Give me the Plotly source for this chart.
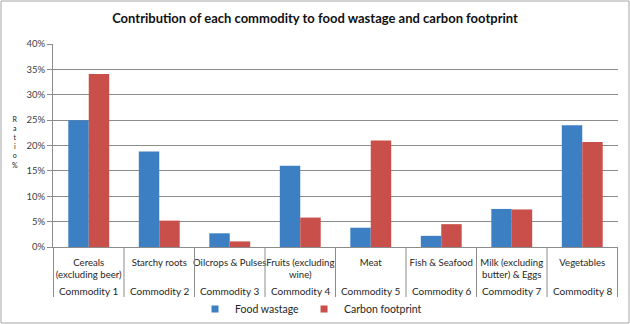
import plotly.graph_objects as go

commodities = ["Commodity 1", "Commodity 2", "Commodity 3", "Commodity 4",
               "Commodity 5", "Commodity 6", "Commodity 7", "Commodity 8"]
names = ["Cereals<br>(excluding beer)", "Starchy roots", "Oilcrops & Pulses",
         "Fruits (excluding<br>wine)", "Meat", "Fish & Seafood",
         "Milk (excluding<br>butter) & Eggs", "Vegetables"]
food_wastage = [0.250, 0.188, 0.027, 0.160, 0.038, 0.022, 0.075, 0.240]
carbon_footprint = [0.341, 0.052, 0.011, 0.058, 0.210, 0.045, 0.074, 0.207]
series_names = ["Food wastage", "Carbon footprint"]
colors = ["#3d7fc3", "#c9504a"]

W, H = 630, 324
ml, mr, mt, mb = 53, 12, 44, 77
pw, ph = W - ml - mr, H - mt - mb

font = "Lato, 'Open Sans', sans-serif"

fig = go.Figure()
for vals, nm, col in zip([food_wastage, carbon_footprint], series_names, colors):
    fig.add_trace(go.Bar(x=names, y=vals, name=nm, showlegend=False,
                         legendgroup=nm,
                         marker=dict(color=col, line=dict(width=0))))
# Legend entries with small square keys
for nm, col in zip(series_names, colors):
    fig.add_trace(go.Scatter(x=[None], y=[None], mode="markers", name=nm,
                             legendgroup=nm,
                             marker=dict(symbol="square", size=7, color=col)))

fig.update_layout(
    width=W, height=H,
    margin=dict(l=ml, r=mr, t=mt, b=mb, autoexpand=False),
    paper_bgcolor="white", plot_bgcolor="white",
    font=dict(family=font, size=10, color="#262626"),
    title=dict(text="<b>Contribution of each commodity to food wastage and carbon footprint</b>",
               x=0.5, xanchor="center", y=1 - 18 / H, yanchor="middle",
               font=dict(size=13, color="#111111")),
    barmode="group", bargap=0.42, bargroupgap=0,
    legend=dict(orientation="h", x=(311 - ml) / pw, xanchor="center",
                y=-(309 - mt - ph) / ph, yanchor="middle",
                font=dict(size=10.5), traceorder="normal", itemwidth=30,
                tracegroupgap=0, bgcolor="rgba(0,0,0,0)"),
    showlegend=True,
)
fig.update_yaxes(range=[0, 0.40], dtick=0.05, tickformat=".0%",
                 showgrid=True, gridcolor="#8c8c8c", gridwidth=1,
                 showline=True, linecolor="#8c8c8c", ticks="outside",
                 ticklen=5, tickcolor="#8c8c8c",
                 tickfont=dict(size=9.5, color="#404040"), zeroline=False)
fig.update_xaxes(type="category", showline=True, linecolor="#8c8c8c",
                 ticks="", tickangle=0, ticklabelstandoff=6,
                 tickfont=dict(size=9.6, color="#262626"))

# Outer level labels and dividers
div_bottom = -(297 - 247) / ph
for i, c in enumerate(commodities):
    fig.add_annotation(text=c, x=names[i], xref="x", yref="paper",
                       y=-(291 - 247) / ph, yanchor="middle", showarrow=False,
                       font=dict(size=10, color="#262626"))
for i in range(len(names) + 1):
    fig.add_shape(type="line", xref="x", yref="paper", x0=i - 0.5, x1=i - 0.5,
                  y0=0, y1=div_bottom, line=dict(color="#8c8c8c", width=1))

# Stacked y-axis title
fig.add_annotation(text="R<br>a<br>t<br>i<br>o<br>%", xref="paper", yref="paper",
                   x=-(ml - 15) / pw, y=(247 - 142) / ph, xanchor="center",
                   yanchor="middle", showarrow=False,
                   font=dict(size=7, color="#222222"))

# Outer chart border
fig.add_shape(type="rect", xref="paper", yref="paper",
              x0=-(ml - 1) / pw, x1=1 + (mr - 1) / pw,
              y0=-(mb - 1) / ph, y1=1 + (mt - 1) / ph,
              line=dict(color="#a6a6a6", width=1), fillcolor="rgba(0,0,0,0)",
              layer="below")

fig.write_html("out.html")
